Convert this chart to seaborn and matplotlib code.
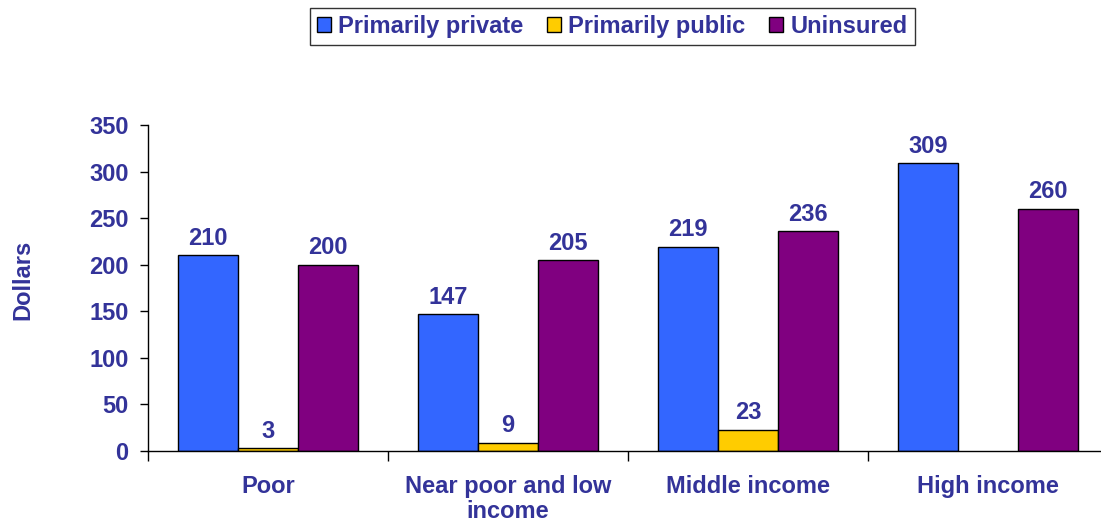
import numpy as np
import pandas as pd
import matplotlib
matplotlib.use("Agg")
import matplotlib.pyplot as plt
import seaborn as sns

# Mean expenses by income group and insurance status
categories = ["Poor", "Near poor and low\nincome", "Middle income", "High income"]
series = ["Primarily private", "Primarily public", "Uninsured"]
private_vals = [210, 147, 219, 309]
public_vals = [3, 9, 23, np.nan]
uninsured_vals = [200, 205, 236, 260]
y_ticks = [0, 50, 100, 150, 200, 250, 300, 350]

colors = ["#3366FF", "#FFCC00", "#800080"]
text_color = "#333399"

rows = []
for name, vals in zip(series, [private_vals, public_vals, uninsured_vals]):
    for cat, v in zip(categories, vals):
        rows.append({"group": cat, "coverage": name, "value": v})
df = pd.DataFrame(rows).dropna()

sns.set_theme(style="white")
plt.rcParams["font.family"] = ["Liberation Sans", "DejaVu Sans"]
plt.rcParams["font.weight"] = "bold"

fig = plt.figure(figsize=(11.01, 5.25), dpi=100)
ax = fig.add_axes([148 / 1101, 74 / 525, 960 / 1101, 326 / 525])

sns.barplot(data=df, x="group", y="value", hue="coverage",
            order=categories, hue_order=series, palette=colors,
            saturation=1, width=0.75, edgecolor="black", linewidth=1.0,
            errorbar=None, ax=ax, legend=True)

fs = 17
for cont in ax.containers:
    ax.bar_label(cont, fmt="%d", padding=4, fontsize=fs,
                 fontweight="bold", color=text_color)

ax.set_xlim(-0.5, len(categories) - 0.5)
ax.set_ylim(0, 350)
ax.set_yticks(y_ticks)
ax.set_yticklabels([str(t) for t in y_ticks], fontsize=fs,
                   fontweight="bold", color=text_color)
ax.set_ylabel("Dollars", fontsize=fs, fontweight="bold", color=text_color)
ax.yaxis.set_label_coords(-0.118, 0.525)
ax.set_xlabel("")

ax.set_xticks(range(len(categories)))
ax.set_xticklabels(categories, fontsize=fs, fontweight="bold",
                   color=text_color, linespacing=1.15)
ax.tick_params(axis="x", which="major", length=0, pad=17)
ax.set_xticks(np.arange(-0.5, len(categories), 1.0), minor=True)
ax.tick_params(axis="x", which="minor", length=7, width=1, color="black",
               direction="out", bottom=True)
ax.tick_params(axis="y", length=6, width=1, color="black",
               direction="out", left=True, pad=8)

for side in ["top", "right"]:
    ax.spines[side].set_visible(False)
for side in ["left", "bottom"]:
    ax.spines[side].set_color("black")
    ax.spines[side].set_linewidth(1)

handles, labels = ax.get_legend_handles_labels()
ax.legend_.remove()
leg = fig.legend(handles, labels, loc="center", bbox_to_anchor=(0.556, 0.95),
                 ncol=3, frameon=True, fancybox=False, fontsize=fs,
                 handlelength=0.6, handleheight=0.6, handletextpad=0.3,
                 columnspacing=1.0, borderpad=0.3)
leg.get_frame().set_edgecolor("black")
leg.get_frame().set_linewidth(1)
for t in leg.get_texts():
    t.set_color(text_color)
    t.set_fontweight("bold")

fig.savefig("out.png", dpi=100)
